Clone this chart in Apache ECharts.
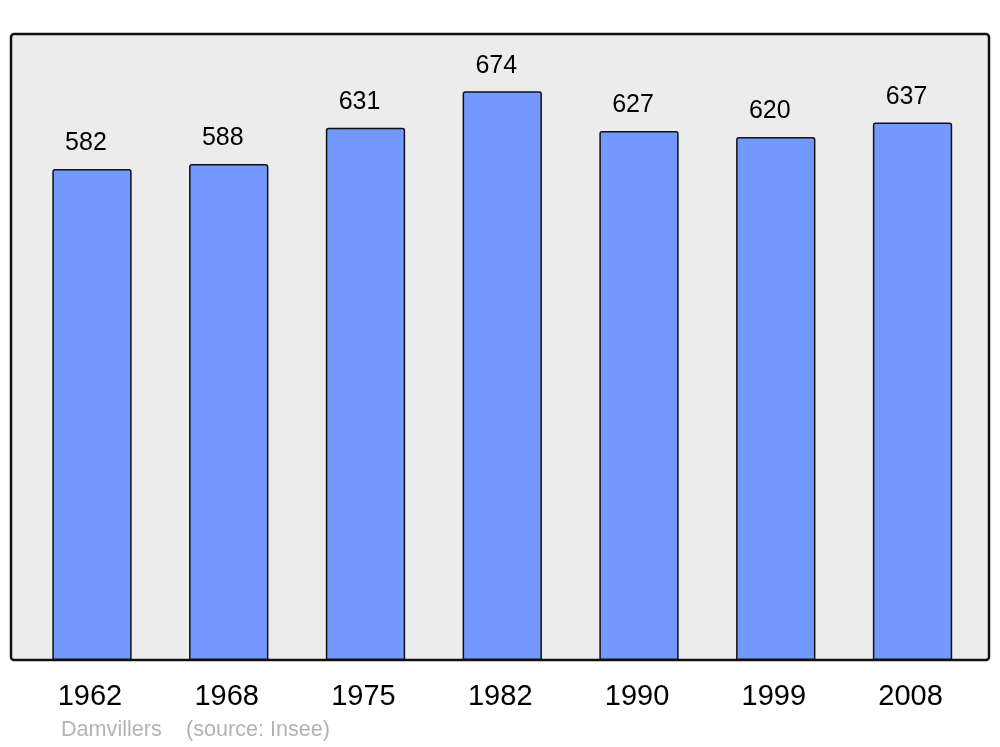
<!DOCTYPE html>
<html>
<head>
<meta charset="utf-8">
<script src="https://cdn.jsdelivr.net/npm/echarts@6/dist/echarts.min.js"></script>
<style>html,body{margin:0;padding:0;background:#fff;}#c{width:1000px;height:747px;}</style>
</head>
<body>
<div id="c"></div>
<script>
const years = ['1962', '1968', '1975', '1982', '1990', '1999', '2008'];
const population = [582, 588, 631, 674, 627, 620, 637];
const footerName = 'Damvillers';
const footerSource = '(source: Insee)';

const chart = echarts.init(document.getElementById('c'), null, {renderer: 'canvas'});
const FONT = 'Liberation Sans, Arial, sans-serif';
chart.setOption({
  backgroundColor: '#ffffff',
  animation: false,
  textStyle: {fontFamily: FONT},
  graphic: [{
    type: 'rect', z: -10, silent: true,
    shape: {x: 11, y: 34, width: 978, height: 626, r: 3},
    style: {fill: '#ececec', stroke: '#111111', lineWidth: 2.5}
  }],
  title: [{
    text: footerName, left: 61, top: 719.5, padding: 0,
    textStyle: {color: '#b3b3b3', fontSize: 21.6, fontWeight: 'normal', fontFamily: FONT}
  }, {
    text: footerSource, left: 186, top: 719.5, padding: 0,
    textStyle: {color: '#b3b3b3', fontSize: 21.6, fontWeight: 'normal', fontFamily: FONT}
  }],
  grid: {left: 23.6, width: 957.3, top: 34, height: 626, containLabel: false},
  xAxis: {
    type: 'category', data: years,
    axisLine: {show: false}, axisTick: {show: false},
    axisLabel: {color: '#000', fontSize: 29, margin: 22, padding: [0, 4, 0, 0], fontFamily: FONT}
  },
  yAxis: {type: 'value', min: 0, max: 742, show: false, splitLine: {show: false}},
  series: [{
    type: 'bar', data: population, barWidth: '58%',
    itemStyle: {color: '#7399ff', borderColor: '#111111', borderWidth: 1.5, borderRadius: [2, 2, 0, 0]},
    label: {show: true, position: 'top', distance: 13, offset: [-6, 0], color: '#000', fontSize: 25, fontFamily: FONT}
  }]
});
</script>
</body>
</html>
